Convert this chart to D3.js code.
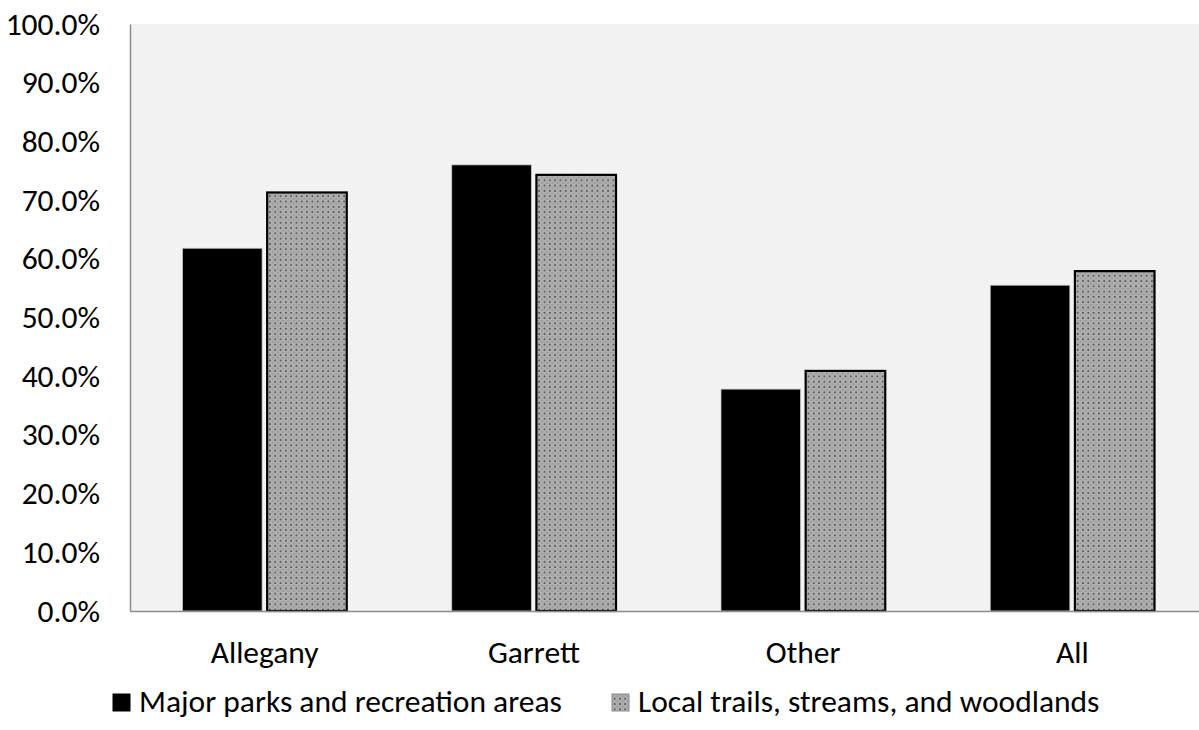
<!DOCTYPE html>
<html>
<head>
<meta charset="utf-8">
<script src="https://cdn.jsdelivr.net/npm/d3@7"></script>
<style>
  html, body { margin: 0; padding: 0; background: #ffffff; overflow: hidden; }
  svg { display: block; overflow: hidden; }
  text { font-family: Carlito, Lato, "Open Sans", sans-serif; fill: #000; }
</style>
</head>
<body>
<svg id="chart" width="1199" height="730"></svg>
<script>
// Share of respondents visiting each kind of outdoor place, by county
const categories = ["Allegany", "Garrett", "Other", "All"];
const seriesNames = ["Major parks and recreation areas", "Local trails, streams, and woodlands"];
const majorParks = [0.618, 0.760, 0.378, 0.555];
const localTrails = [0.713, 0.743, 0.409, 0.579];
const yTicks = [0, 0.1, 0.2, 0.3, 0.4, 0.5, 0.6, 0.7, 0.8, 0.9, 1.0];

const svg = d3.select("#chart");
const margin = { left: 130, top: 24 };
const plotW = 1077;          // plot area runs past the right edge of the canvas
const plotH = 587;
const FONT = "Carlito, Lato, 'Open Sans', sans-serif";
const FONT_SIZE = 31.5;

// Dotted fill used by the second series
const defs = svg.append("defs");
const pat = defs.append("pattern")
  .attr("id", "dots")
  .attr("patternUnits", "userSpaceOnUse")
  .attr("width", 5.3).attr("height", 5.3);
pat.append("rect").attr("width", 5.3).attr("height", 5.3).attr("fill", "#a0a0a0");
pat.append("circle").attr("cx", 2.65).attr("cy", 2.65).attr("r", 2.2).attr("fill", "#cbcbcb");
pat.append("circle").attr("cx", 2.65).attr("cy", 2.65).attr("r", 1.25).attr("fill", "#5a5a5a");

const x0 = d3.scaleBand().domain(categories).range([0, plotW]).paddingInner(0.39).paddingOuter(0.195);
const x1 = d3.scaleBand().domain([0, 1]).range([0, x0.bandwidth()]).paddingInner(0.06);
const y = d3.scaleLinear().domain([0, 1]).range([plotH, 0]);

const g = svg.append("g").attr("transform", `translate(${margin.left},${margin.top})`);

// Plot background
g.append("rect").attr("width", plotW).attr("height", plotH).attr("fill", "#f2f2f2");

// Bars
const rows = categories.map((c, i) => ({ c, vals: [majorParks[i], localTrails[i]] }));
const groups = g.selectAll(".cat").data(rows).join("g")
  .attr("class", "cat")
  .attr("transform", d => `translate(${x0(d.c)},0)`);
groups.selectAll("rect").data(d => d.vals.map((v, k) => ({ v, k }))).join("rect")
  .attr("x", d => x1(d.k))
  .attr("y", d => y(d.v))
  .attr("width", x1.bandwidth())
  .attr("height", d => plotH - y(d.v))
  .attr("fill", d => d.k === 0 ? "#000000" : "url(#dots)")
  .attr("stroke", d => d.k === 0 ? "#c8c8c8" : "#000000")
  .attr("stroke-width", d => d.k === 0 ? 0.75 : 2.2);

// Axes
const yAxis = d3.axisLeft(y).tickValues(yTicks).tickFormat(d3.format(".1%")).tickSize(0).tickPadding(30);
const ya = g.append("g").call(yAxis);
ya.select(".domain").attr("stroke", "#8c8c8c").attr("stroke-width", 1.5);
ya.selectAll("text").attr("font-size", FONT_SIZE).attr("font-family", FONT);

const xAxis = d3.axisBottom(x0).tickSize(0);
const xa = g.append("g").attr("transform", `translate(0,${plotH})`).call(xAxis);
xa.select(".domain").attr("stroke", "#8c8c8c").attr("stroke-width", 1.5);
xa.selectAll("text").attr("font-size", FONT_SIZE).attr("y", 52).attr("dy", 0)
  .attr("font-family", FONT);

// Legend
const legendItems = [
  { name: seriesNames[0], fill: "#000000", stroke: "#000000", x: 113 },
  { name: seriesNames[1], fill: "url(#dots)", stroke: "#8a8a8a", x: 612 }
];
const lg = svg.append("g").attr("transform", "translate(0,712)");
const li = lg.selectAll("g").data(legendItems).join("g")
  .attr("transform", d => `translate(${d.x},0)`);
li.append("rect").attr("x", 0).attr("y", -18).attr("width", 17).attr("height", 17)
  .attr("fill", d => d.fill).attr("stroke", d => d.stroke).attr("stroke-width", 1);
li.append("text").attr("x", 26).attr("y", 0)
  .attr("font-size", FONT_SIZE).text(d => d.name);
</script>
</body>
</html>
